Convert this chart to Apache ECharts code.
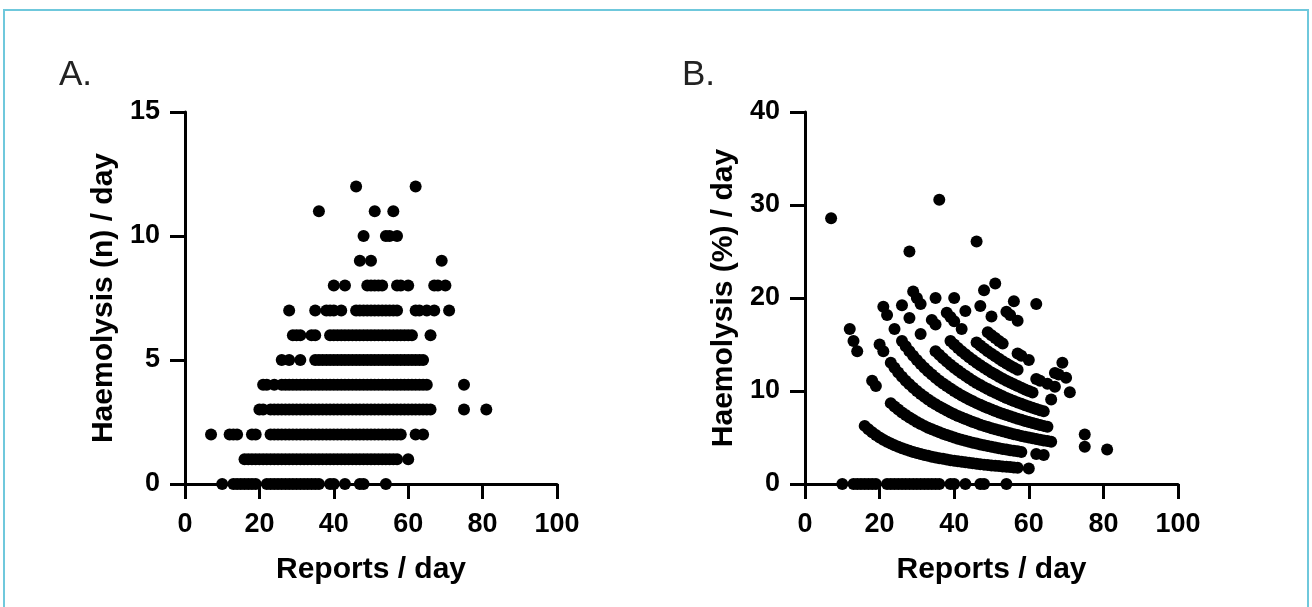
<!DOCTYPE html>
<html>
<head>
<meta charset="utf-8">
<script src="https://cdn.jsdelivr.net/npm/echarts@6/dist/echarts.min.js"></script>
<style>
  html, body { margin: 0; padding: 0; background: #fff; }
  #chart { width: 1312px; height: 607px; }
</style>
</head>
<body>
<div id="chart"></div>
<script>
// reports/day values, one list per haemolysis count (n)
const reportsN0 = [10, 13, 14, 15, 16, 17, 18, 19, 22, 23, 24, 25, 26, 27, 28, 29, 30, 31, 32, 33, 34, 35, 36, 39, 40, 43, 47, 48, 54];
const reportsN1 = [16, 17, 18, 19, 20, 21, 22, 23, 24, 25, 26, 27, 28, 29, 30, 31, 32, 33, 34, 35, 36, 37, 38, 39, 40, 41, 42, 43, 44, 45, 46, 47, 48, 49, 50, 51, 52, 53, 54, 55, 56, 57, 60];
const reportsN2 = [7, 12, 13, 14, 18, 19, 23, 24, 25, 26, 27, 28, 29, 30, 31, 32, 33, 34, 35, 36, 37, 38, 39, 40, 41, 42, 43, 44, 45, 46, 47, 48, 49, 50, 51, 52, 53, 54, 55, 56, 57, 58, 62, 64];
const reportsN3 = [20, 21, 23, 24, 25, 26, 27, 28, 29, 30, 31, 32, 33, 34, 35, 36, 37, 38, 39, 40, 41, 42, 43, 44, 45, 46, 47, 48, 49, 50, 51, 52, 53, 54, 55, 56, 57, 58, 59, 60, 61, 62, 63, 64, 65, 66, 75, 81];
const reportsN4 = [21, 22, 24, 26, 27, 28, 29, 30, 31, 32, 33, 34, 35, 36, 37, 38, 39, 40, 41, 42, 43, 44, 45, 46, 47, 48, 49, 50, 51, 52, 53, 54, 55, 56, 57, 58, 59, 60, 61, 62, 63, 64, 65, 75];
const reportsN5 = [26, 28, 31, 35, 36, 37, 38, 39, 40, 41, 42, 43, 44, 45, 46, 47, 48, 49, 50, 51, 52, 53, 54, 55, 56, 57, 58, 59, 60, 61, 62, 63, 64];
const reportsN6 = [29, 30, 31, 34, 35, 39, 40, 41, 42, 43, 44, 45, 46, 47, 48, 49, 50, 51, 52, 53, 54, 55, 56, 57, 58, 59, 60, 61, 66];
const reportsN7 = [28, 35, 38, 39, 40, 42, 46, 47, 48, 49, 50, 51, 52, 53, 54, 55, 56, 57, 62, 63, 65, 67, 71];
const reportsN8 = [40, 43, 49, 50, 51, 52, 53, 57, 58, 60, 67, 68, 70];
const reportsN9 = [47, 50, 69];
const reportsN10 = [48, 54, 55, 57];
const reportsN11 = [36, 51, 56];
const reportsN12 = [46, 62];

const reportsByCount = [reportsN0, reportsN1, reportsN2, reportsN3, reportsN4, reportsN5, reportsN6,
  reportsN7, reportsN8, reportsN9, reportsN10, reportsN11, reportsN12];

const xTicks = [0, 20, 40, 60, 80, 100];
const yTicksA = [0, 5, 10, 15];
const yTicksB = [0, 10, 20, 30, 40];

// panel A: (reports, n); panel B: same days as a percentage n / reports
const pointsA = [];
const pointsB = [];
reportsByCount.forEach((list, n) => {
  list.forEach((r) => {
    pointsA.push([r, n]);
    pointsB.push([r, n / r * 100]);
  });
});

const font = '"Liberation Sans", Arial, Helvetica, sans-serif';

const axisBase = (ticks) => ({
  type: 'value',
  min: ticks[0],
  max: ticks[ticks.length - 1],
  interval: ticks[1] - ticks[0],
  splitLine: {show: false},
  axisLine: {show: true, onZero: false, lineStyle: {color: '#000', width: 3}},
  axisTick: {show: true, inside: false, length: 15, lineStyle: {color: '#000', width: 3}},
  axisLabel: {color: '#000', fontSize: 27, fontWeight: 'bold', fontFamily: font, margin: 25},
  nameLocation: 'middle',
  nameTextStyle: {color: '#000', fontSize: 30, fontWeight: 'bold', fontFamily: font}
});

const xAxisOf = (idx) => {
  const ax = axisBase(xTicks);
  ax.axisLabel.margin = 27;
  return Object.assign(ax, {gridIndex: idx, name: 'Reports / day', nameGap: 71});
};
const yAxisOf = (idx, ticks, name) => Object.assign(axisBase(ticks), {gridIndex: idx, name, nameGap: 66});

const chart = echarts.init(document.getElementById('chart'));
chart.setOption({
  animation: false,
  backgroundColor: '#fff',
  grid: [
    {left: 185, top: 112, width: 372, height: 372, containLabel: false, outerBoundsMode: 'none'},
    {left: 805, top: 112, width: 373, height: 372, containLabel: false, outerBoundsMode: 'none'}
  ],
  xAxis: [xAxisOf(0), xAxisOf(1)],
  yAxis: [
    yAxisOf(0, yTicksA, 'Haemolysis (n) / day'),
    yAxisOf(1, yTicksB, 'Haemolysis (%) / day')
  ],
  series: [
    {type: 'scatter', xAxisIndex: 0, yAxisIndex: 0, data: pointsA, symbolSize: 12,
      itemStyle: {color: '#000', opacity: 1}},
    {type: 'scatter', xAxisIndex: 1, yAxisIndex: 1, data: pointsB, symbolSize: 12,
      itemStyle: {color: '#000', opacity: 1}}
  ],
  graphic: [
    {type: 'rect', z: 100, shape: {x: 4, y: 10, width: 1304, height: 640},
      style: {fill: 'none', stroke: '#6fc8dc', lineWidth: 2}},
    {type: 'text', left: 59, top: 58, style: {text: 'A.', fontSize: 35, fontFamily: font, fill: '#222'}},
    {type: 'text', left: 682, top: 58, style: {text: 'B.', fontSize: 35, fontFamily: font, fill: '#222'}}
  ]
});
</script>
</body>
</html>
